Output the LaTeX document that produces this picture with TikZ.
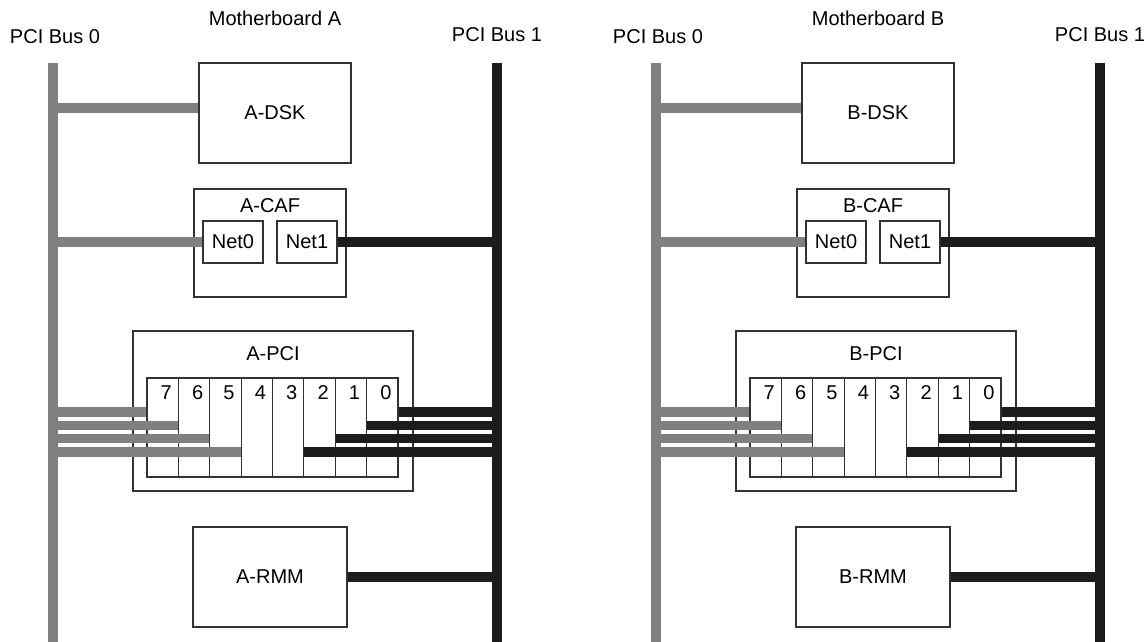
\documentclass[tikz,border=0pt]{standalone}
\usepackage{fontspec}
\setmainfont{Liberation Sans}
\usetikzlibrary{calc}
\definecolor{busgray}{HTML}{808080}
\definecolor{busblack}{HTML}{1C1C1C}

\begin{document}
\begin{tikzpicture}[x=1pt, y=-1pt,
  box/.style={draw=black!80, line width=1.1pt, inner sep=0pt, align=center, font=\fontsize{20}{24}\selectfont},
  slotbox/.style={box, minimum width=31.375pt, minimum height=99pt},
  lab/.style={font=\fontsize{20}{24}\selectfont, inner sep=0pt, anchor=base},
  buszero/.style={line width=9.6pt, busgray},
  busone/.style={line width=9.6pt, busblack}
]
\useasboundingbox (0,0) rectangle (1148,642);

\foreach \m/\dx in {A/0,B/603}{
\begin{scope}[xshift=\dx pt]
  % buses and titles
  \coordinate (\m-b0) at (53,63);
  \coordinate (\m-b0end) at (53,642);
  \coordinate (\m-b1) at (497,63);
  \coordinate (\m-b1end) at (497,642);
  \node[lab] (\m-title) at (275,26) {Motherboard \m};
  \node[lab] (\m-b0lab) at (55,44) {PCI Bus 0};
  \node[lab] (\m-b1lab) at (497,42) {PCI Bus 1};
  \draw[buszero] (\m-b0) -- (\m-b0end);
  \draw[busone] (\m-b1) -- (\m-b1end);

  % boards
  \node[box, minimum width=152pt, minimum height=100pt] (\m-dsk) at (275,113) {\m-DSK};
  \node[box, minimum width=152pt, minimum height=108pt] (\m-caf) at (270,243) {};
  \node[lab] (\m-caflab) at ([yshift=-24pt]\m-caf.north) {\m-CAF};
  \node[box, minimum width=60pt, minimum height=42pt] (\m-net0) at (233,242) {Net0};
  \node[box, minimum width=60pt, minimum height=42pt] (\m-net1) at (307,242) {Net1};
  \node[box, minimum width=280pt, minimum height=160pt] (\m-pci) at (273,411) {};
  \node[lab] (\m-pcilab) at ([yshift=-30pt]\m-pci.north) {\m-PCI};
  \node[box, minimum width=154pt, minimum height=100pt] (\m-rmm) at (270,577) {\m-RMM};

  % slots
  \foreach \i in {0,...,7}{
    \node[slotbox] (\m-s\i) at ({147+(7-\i+0.5)*31.375},427.5) {};
    \node[lab] (\m-n\i) at ([xshift=3.5pt, yshift=-22pt]\m-s\i.north) {\i};
  }

  % links to the buses
  \coordinate (\m-dskin) at ([yshift=5pt]\m-dsk.west);
  \draw[buszero] (\m-dskin) -- (\m-b0 |- \m-dskin);
  \draw[buszero] (\m-net0.west) -- (\m-b0 |- \m-net0.west);
  \draw[busone] (\m-net1.east) -- (\m-b1 |- \m-net1.east);
  \draw[busone] (\m-rmm.east) -- (\m-b1 |- \m-rmm.east);
  \foreach \i/\k in {7/1,6/2,5/3,4/4}{
    \pgfmathsetmacro\dy{15.5-13.3*(\k-1)}
    \coordinate (\m-g\i) at ([yshift=\dy pt]\m-s\i.west);
    \draw[buszero] (\m-g\i) -- (\m-b0 |- \m-g\i);
  }
  \foreach \i/\k in {0/1,1/2,2/3,3/4}{
    \pgfmathsetmacro\dy{15.5-13.3*(\k-1)}
    \coordinate (\m-k\i) at ([yshift=\dy pt]\m-s\i.east);
    \draw[busone] (\m-k\i) -- (\m-b1 |- \m-k\i);
  }
\end{scope}
}
\end{tikzpicture}
\end{document}
